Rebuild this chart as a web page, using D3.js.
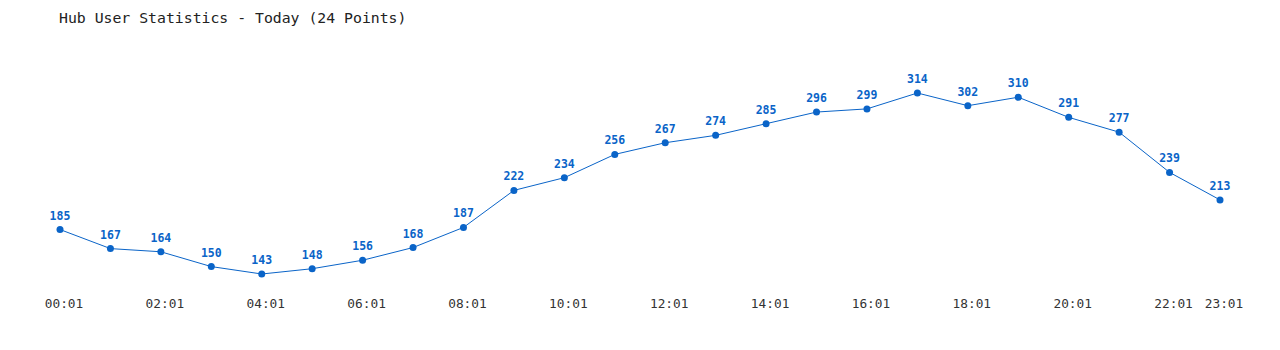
<!DOCTYPE html>
<html>
<head>
<meta charset="utf-8">
<script src="https://cdn.jsdelivr.net/npm/d3@7"></script>
<style>
  body { margin: 0; background: #fff; }
  text { font-family: "DejaVu Sans Mono", "Liberation Mono", monospace; }
</style>
</head>
<body>
<div id="chart"></div>
<script>
const TITLE = "Hub User Statistics - Today (24 Points)"
const hours = d3.range(24).map(h => String(h).padStart(2, "0") + ":01")
const users = [185,167,164,150,143,148,156,168,187,222,234,256,267,274,285,296,299,314,302,310,291,277,239,213]
const tickLabels = ["00:01","02:01","04:01","06:01","08:01","10:01","12:01","14:01","16:01","18:01","20:01","22:01","23:01"]

const W = 1280, H = 350
const BLUE = "#0a64c8"

const svg = d3.select("#chart").append("svg")
    .attr("width", W)
    .attr("height", H)

const x = d3.scalePoint()
    .domain(hours)
    .range([60, 1220])

const y = d3.scaleLinear()
    .domain(d3.extent(users))
    .range([274, 93])

svg.append("text")
    .attr("x", 59)
    .attr("y", 23)
    .attr("font-size", 14.8)
    .attr("fill", "#222")
    .text(TITLE)

const line = d3.line()
    .x((d, i) => x(hours[i]))
    .y(d => y(d))

svg.append("path")
    .datum(users)
    .attr("fill", "none")
    .attr("stroke", BLUE)
    .attr("stroke-width", 1)
    .attr("d", line)

svg.selectAll("circle.pt")
    .data(users).enter()
    .append("circle")
    .attr("class", "pt")
    .attr("cx", (d, i) => x(hours[i]))
    .attr("cy", d => y(d))
    .attr("r", 3.5)
    .attr("fill", BLUE)

svg.selectAll("text.val")
    .data(users).enter()
    .append("text")
    .attr("class", "val")
    .attr("x", (d, i) => x(hours[i]))
    .attr("y", d => y(d) - 10)
    .attr("text-anchor", "middle")
    .attr("font-size", 11.5)
    .attr("font-weight", "bold")
    .attr("fill", BLUE)
    .text(d => d)

svg.selectAll("text.tick")
    .data(tickLabels).enter()
    .append("text")
    .attr("class", "tick")
    .attr("x", d => x(d) + 4)
    .attr("y", 308)
    .attr("text-anchor", "middle")
    .attr("font-size", 12.8)
    .attr("fill", "#333")
    .text(d => d)
</script>
</body>
</html>
